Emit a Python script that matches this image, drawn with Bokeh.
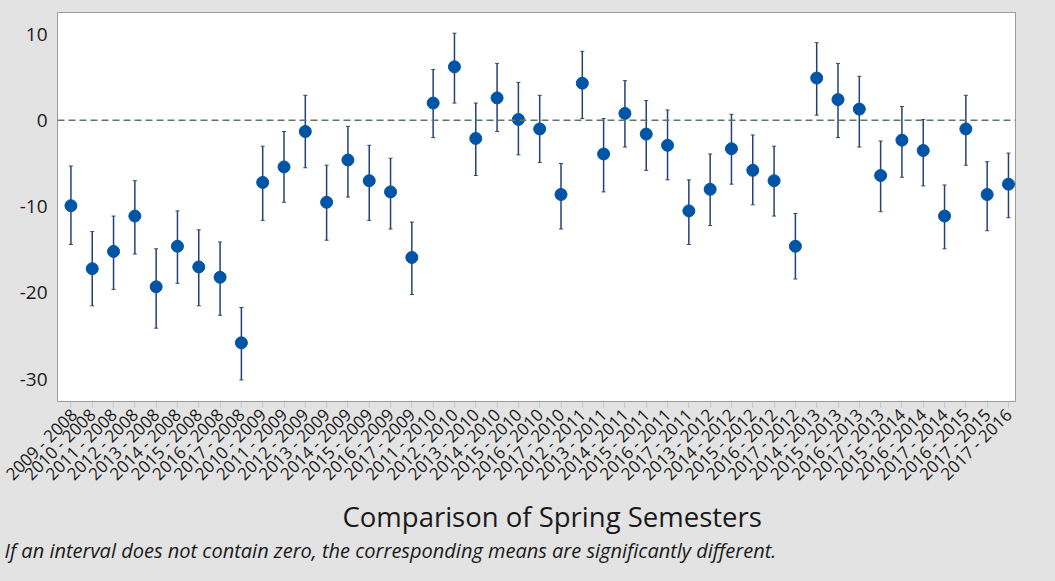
import math
from bokeh.plotting import figure
from bokeh.models import (ColumnDataSource, Range1d, FixedTicker, Span, Whisker,
                          TeeHead, Title)
from bokeh.embed import file_html
from bokeh.resources import INLINE

pairs = [
    "2009 - 2008", "2010 - 2008", "2011 - 2008", "2012 - 2008", "2013 - 2008",
    "2014 - 2008", "2015 - 2008", "2016 - 2008", "2017 - 2008",
    "2010 - 2009", "2011 - 2009", "2012 - 2009", "2013 - 2009", "2014 - 2009",
    "2015 - 2009", "2016 - 2009", "2017 - 2009",
    "2011 - 2010", "2012 - 2010", "2013 - 2010", "2014 - 2010", "2015 - 2010",
    "2016 - 2010", "2017 - 2010",
    "2012 - 2011", "2013 - 2011", "2014 - 2011", "2015 - 2011", "2016 - 2011",
    "2017 - 2011",
    "2013 - 2012", "2014 - 2012", "2015 - 2012", "2016 - 2012", "2017 - 2012",
    "2014 - 2013", "2015 - 2013", "2016 - 2013", "2017 - 2013",
    "2015 - 2014", "2016 - 2014", "2017 - 2014",
    "2016 - 2015", "2017 - 2015",
    "2017 - 2016",
]

means = [
    -9.9, -17.2, -15.2, -11.1, -19.3, -14.6, -17.0, -18.2, -25.8,
    -7.2, -5.4, -1.3, -9.5, -4.6, -7.0, -8.3, -15.9,
    2.0, 6.2, -2.1, 2.6, 0.1, -1.0, -8.6,
    4.3, -3.9, 0.8, -1.6, -2.9, -10.5,
    -8.0, -3.3, -5.8, -7.0, -14.6,
    4.9, 2.4, 1.3, -6.4,
    -2.3, -3.5, -11.1,
    -1.0, -8.6,
    -7.4,
]

lowers = [
    -14.4, -21.5, -19.6, -15.5, -24.1, -18.9, -21.5, -22.6, -30.1,
    -11.6, -9.5, -5.5, -13.9, -8.9, -11.6, -12.6, -20.2,
    -2.0, 2.0, -6.4, -1.3, -4.0, -4.9, -12.6,
    0.2, -8.3, -3.1, -5.8, -6.9, -14.4,
    -12.2, -7.4, -9.8, -11.1, -18.4,
    0.6, -2.0, -3.1, -10.6,
    -6.6, -7.6, -14.9,
    -5.2, -12.8,
    -11.3,
]

uppers = [
    -5.3, -12.9, -11.1, -7.0, -14.9, -10.5, -12.7, -14.1, -21.7,
    -3.0, -1.3, 2.9, -5.2, -0.7, -2.9, -4.4, -11.8,
    5.9, 10.1, 2.0, 6.6, 4.4, 2.9, -5.0,
    8.0, 0.2, 4.6, 2.3, 1.2, -6.9,
    -3.9, 0.7, -1.7, -3.0, -10.8,
    9.0, 6.6, 5.1, -2.4,
    1.6, 0.1, -7.5,
    2.9, -4.8,
    -3.8,
]

y_ticks = [-30, -20, -10, 0, 10]

title_text = "Comparison of Spring Semesters"
note_text = "If an interval does not contain zero, the corresponding means are significantly different."

xs = list(range(len(pairs)))
src = ColumnDataSource(dict(x=xs, mean=means, lower=lowers, upper=uppers, label=pairs))

BG = "#e3e3e3"
FONT = "Open Sans"

p = figure(width=1039, height=565, output_backend="svg", toolbar_location=None,
           x_range=Range1d(-0.63, 44.33), y_range=Range1d(-32.6, 12.5),
           min_border_left=57, min_border_right=24, min_border_top=12,
           min_border_bottom=164)

p.background_fill_color = "white"
p.border_fill_color = BG
p.outline_line_color = "#9a9a9a"
p.outline_line_width = 1
p.xgrid.visible = False
p.ygrid.visible = False

# reference line at zero
p.add_layout(Span(location=0, dimension="width", line_color="#5c7866",
                  line_width=1.5, line_dash="7 4"))

# intervals
p.add_layout(Whisker(source=src, base="x", lower="lower", upper="upper",
                     line_color="#23407a", line_width=1.5,
                     upper_head=TeeHead(size=4, line_color="#444444", line_width=1),
                     lower_head=TeeHead(size=4, line_color="#444444", line_width=1)))

p.scatter("x", "mean", source=src, size=12, color="#0054a6", line_color="#0054a6")

# axes
p.xaxis.ticker = FixedTicker(ticks=xs)
p.xaxis.major_label_overrides = {i: lab for i, lab in enumerate(pairs)}
p.xaxis.major_label_orientation = math.pi / 4
p.xaxis.major_label_text_font = FONT
p.xaxis.major_label_text_font_size = "17px"
p.xaxis.major_label_text_color = "#1a1a1a"
p.xaxis.axis_line_color = None
p.xaxis.major_tick_line_color = "#c4c4c4"
p.xaxis.major_tick_out = 6
p.xaxis.major_tick_in = 0
p.xaxis.minor_tick_line_color = None
p.xaxis.major_label_standoff = 4
p.xaxis.axis_label_standoff = 0

p.yaxis.ticker = FixedTicker(ticks=y_ticks)
p.yaxis.major_label_overrides = {t: str(t) for t in y_ticks}
p.yaxis.major_label_text_font = FONT
p.yaxis.major_label_text_font_size = "19px"
p.yaxis.major_label_text_color = "#1a1a1a"
p.yaxis.axis_line_color = None
p.yaxis.major_tick_line_color = None
p.yaxis.minor_tick_line_color = None
p.yaxis.major_tick_out = 0
p.yaxis.major_tick_in = 0
p.yaxis.major_label_standoff = 10

p.add_layout(Title(text=title_text, text_font=FONT, text_font_size="27.5px",
                   text_font_style="normal", text_color="#1a1a1a",
                   align="left", offset=285, standoff=0), "below")
p.add_layout(Title(text=note_text, text_font=FONT, text_font_size="20px",
                   text_font_style="italic", text_color="#1a1a1a",
                   align="left", offset=-53, standoff=0), "below")

html = file_html(p, INLINE)
html = html.replace("<head>", "<head><style>html,body{background:%s;}</style>" % BG, 1)
open("out.html", "w").write(html)
